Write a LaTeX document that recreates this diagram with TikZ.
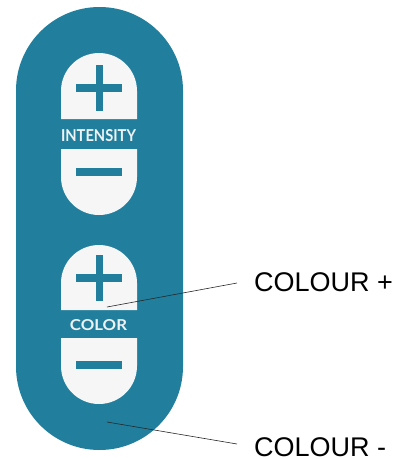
\documentclass[tikz,border=0pt]{standalone}
\usepackage{fontspec}
\setmainfont{Liberation Sans}
\newfontfamily\btnfont{Lato}
\definecolor{panel}{RGB}{33,127,157}
\definecolor{btn}{RGB}{246,246,246}
\definecolor{btntext}{RGB}{238,242,244}
\tikzset{
  panelshape/.style={fill=panel},
  btnshape/.style={fill=btn},
  signbar/.style={fill=panel},
  btnlabel/.style={inner sep=0pt, text=btntext, font=\btnfont\bfseries},
  calllabel/.style={inner sep=0pt, anchor=west, font=\fontsize{27}{30}\selectfont, text=black},
  leader/.style={draw=black!85, line width=0.6pt}
}
\begin{document}
\begin{tikzpicture}[x=1pt,y=-1pt]
\useasboundingbox (0,0) rectangle (401,459);
% outer panel
\path[panelshape] (16,90.5) arc[start angle=180,end angle=360,radius=83.5]
  -- (183,366.5) arc[start angle=0,end angle=180,radius=83.5] -- cycle;
% intensity buttons
\path[btnshape] (61,119) -- (61,91) arc[start angle=180,end angle=360,radius=38] -- (137,119) -- cycle;
\path[btnshape] (61,149) -- (137,149) -- (137,177) arc[start angle=0,end angle=180,radius=38] -- cycle;
% color buttons
\path[btnshape] (61,310) -- (61,283) arc[start angle=180,end angle=360,radius=38] -- (137,310) -- cycle;
\path[btnshape] (61,338) -- (137,338) -- (137,366) arc[start angle=0,end angle=180,radius=38] -- cycle;
% plus / minus signs
\path[signbar] (76,84) rectangle (122,92);
\path[signbar] (95.5,65) rectangle (102.5,111);
\path[signbar] (76,167.5) rectangle (122,175.5);
\path[signbar] (76,273.5) rectangle (122,281.5);
\path[signbar] (95.5,255) rectangle (102.5,301);
\path[signbar] (76,360.5) rectangle (122,368.5);
% button labels
\node[btnlabel] (intensity) at (98.5,136) {\resizebox{75pt}{12pt}{INTENSITY}};
\node[btnlabel] (color) at (98.5,325.5) {\resizebox{57pt}{11pt}{COLOR}};
% callouts
\node[calllabel] (cplus) at (254,282) {COLOUR +};
\node[calllabel] (cminus) at (254,447) {COLOUR -};
\coordinate (pplus) at (107,307);
\coordinate (pminus) at (107,422);
\draw[leader] (pplus) -- ([xshift=-17pt,yshift=-1pt]cplus.west);
\draw[leader] (pminus) -- ([xshift=-17pt,yshift=3pt]cminus.west);
\end{tikzpicture}
\end{document}
